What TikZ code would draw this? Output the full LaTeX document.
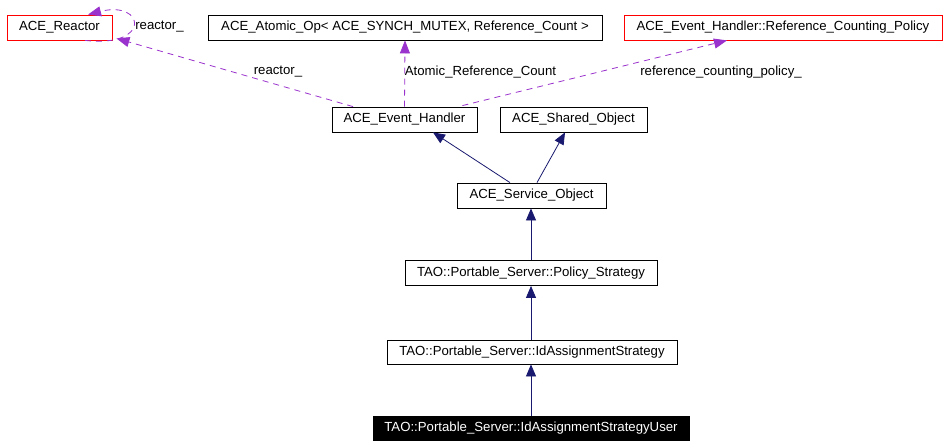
\documentclass[tikz,border=0pt]{standalone}
\usepackage{fontspec}
\setmainfont{Liberation Sans}
\usetikzlibrary{arrows.meta}
\definecolor{edgepurple}{HTML}{9A32CD}
\definecolor{edgeblue}{HTML}{191970}
\begin{document}
\begin{tikzpicture}[x=1pt,y=-1pt,
  cls/.style={draw=black,line width=0.8pt,rectangle,inner sep=0pt,minimum height=25pt,font=\fontsize{13.2}{15}\selectfont,anchor=center},
  redcls/.style={cls,draw=red},
  inh/.style={draw=edgeblue,line width=0.8pt,-{Triangle[length=12pt,width=10pt]}},
  usage/.style={draw=edgepurple,line width=0.8pt,dash pattern=on 6pt off 5pt,-{Triangle[length=13pt,width=10pt]}},
  lbl/.style={font=\fontsize{13.2}{15}\selectfont,inner sep=0pt,anchor=center}]
\useasboundingbox[fill=white] (0,0) rectangle (952,447);
\node[redcls,minimum width=105pt] (reactor) at (59.5,27.5) {ACE\_Reactor};
\node[cls,minimum width=394pt] (atomic) at (405,27.5) {ACE\_Atomic\_Op< ACE\_SYNCH\_MUTEX, Reference\_Count >};
\node[redcls,minimum width=318pt] (rcp) at (783,27.5) {ACE\_Event\_Handler::Reference\_Counting\_Policy};
\node[cls,minimum width=145pt] (ev) at (404.5,119.5) {ACE\_Event\_Handler};
\node[cls,minimum width=147pt] (sh) at (573.5,119.5) {ACE\_Shared\_Object};
\node[cls,minimum width=149pt] (svc) at (531.5,195.5) {ACE\_Service\_Object};
\node[cls,minimum width=252pt] (pol) at (531,273) {TAO::Portable\_Server::Policy\_Strategy};
\node[cls,minimum width=290pt,minimum height=24pt] (ida) at (532,352) {TAO::Portable\_Server::IdAssignmentStrategy};
\node[cls,fill=black,text=white,minimum width=316pt,minimum height=24pt] (user) at (531,428) {TAO::Portable\_Server::IdAssignmentStrategyUser};
% inheritance
\draw[inh] ([xshift=-21.5pt]svc.north) -- ([xshift=28.5pt]ev.south);
\draw[inh] ([xshift=5.5pt]svc.north) -- ([xshift=-8.5pt]sh.south);
\draw[inh] (pol.north) -- ([xshift=-0.5pt]svc.south);
\draw[inh] ([xshift=-1pt]ida.north) -- (pol.south);
\draw[inh] (user.north) -- ([xshift=-1pt]ida.south);
% usage
\draw[usage] ([xshift=-51.5pt]ev.north) -- ([xshift=4pt,yshift=2pt]reactor.south east);
\draw[usage] (ev.north) -- (atomic.south);
\draw[usage] ([xshift=-15pt,yshift=1pt]ev.north east) -- ([xshift=-56pt]rcp.south);
\draw[usage] ([xshift=25.5pt]reactor.south) .. controls (152,48) and (145,0) .. ([xshift=28.5pt]reactor.north);
\node[lbl] (l1) at (159.5,27) {reactor\_};
\node[lbl] (l2) at (278,72) {reactor\_};
\node[lbl] (l3) at (480.5,72) {Atomic\_Reference\_Count};
\node[lbl] (l4) at (721,72) {reference\_counting\_policy\_};
\end{tikzpicture}
\end{document}
